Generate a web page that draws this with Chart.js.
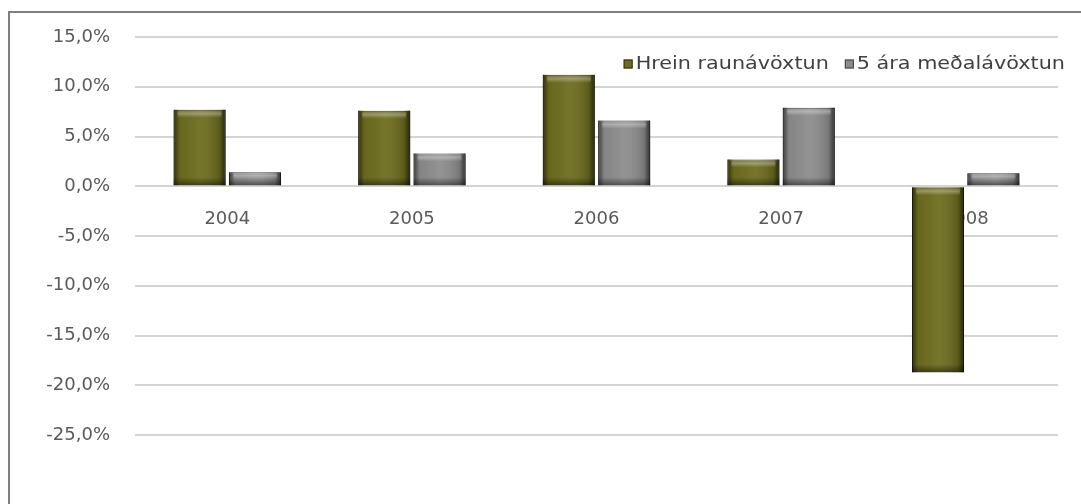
<!DOCTYPE html>
<html>
<head>
<meta charset="utf-8">
<script src="https://cdn.jsdelivr.net/npm/chart.js@4.4.1/dist/chart.umd.min.js"></script>
<style>
    html, body { margin: 0; padding: 0; background: #fff; }
    #wrap { position: relative; width: 1081px; height: 504px; overflow: hidden; }
    #frame {
        position: absolute; left: 8px; top: 11px; width: 1200px; height: 600px;
        border-left: 2px solid #7f7f7f; border-top: 2px solid #7f7f7f;
    }
    canvas { position: absolute; left: 0; top: 0; }
</style>
</head>
<body>
<div id="wrap">
    <div id="frame"></div>
    <canvas id="returnChart" width="1081" height="504"></canvas>
</div>
<script>
const years = ['2004', '2005', '2006', '2007', '2008'];
const seriesNames = ['Hrein raunávöxtun', '5 ára meðalávöxtun'];
const netRealReturn = [7.7, 7.6, 11.2, 2.7, -18.7];
const fiveYearAvg = [1.4, 3.3, 6.6, 7.9, 1.3];
const yMin = -25;
const yMax = 15;
const yStep = 5;

const fontFamily = '"DejaVu Sans", Verdana, sans-serif';

// fake the bevelled look of the excel bars
const bevelPlugin = {
    id: 'bevel',
    afterDatasetsDraw(chart) {
        const c = chart.ctx;
        chart.data.datasets.forEach((ds, i) => {
            const meta = chart.getDatasetMeta(i);
            meta.data.forEach(bar => {
                const left = bar.x - bar.width / 2;
                const top = Math.min(bar.y, bar.base);
                const h = Math.abs(bar.base - bar.y);
                const w = bar.width;
                c.save();
                const g = c.createLinearGradient(left, 0, left + w, 0);
                g.addColorStop(0, 'rgba(0,0,0,0.55)');
                g.addColorStop(0.12, 'rgba(0,0,0,0.05)');
                g.addColorStop(0.5, 'rgba(255,255,255,0.06)');
                g.addColorStop(0.88, 'rgba(0,0,0,0.15)');
                g.addColorStop(1, 'rgba(0,0,0,0.65)');
                c.fillStyle = g;
                c.fillRect(left, top, w, h);
                const hh = Math.min(8, h / 2);
                const g2 = c.createLinearGradient(0, top, 0, top + hh);
                g2.addColorStop(0, 'rgba(255,255,255,0.05)');
                g2.addColorStop(0.5, 'rgba(255,255,255,0.3)');
                g2.addColorStop(1, 'rgba(255,255,255,0)');
                c.fillStyle = g2;
                c.fillRect(left + 4, top + 1, w - 8, hh);
                const g3 = c.createLinearGradient(0, top + h - hh, 0, top + h);
                g3.addColorStop(0, 'rgba(0,0,0,0)');
                g3.addColorStop(1, 'rgba(0,0,0,0.45)');
                c.fillStyle = g3;
                c.fillRect(left, top + h - hh, w, hh);
                c.restore();
            });
        });
    }
};

// legend sits inside the plot, top right, like the excel one
// (the source picture is stretched sideways, so the text is too)
const insideLegend = {
    id: 'insideLegend',
    afterDraw(chart) {
        const c = chart.ctx;
        const stretch = 1.22;
        const box = 9, gap = 3, itemGap = 16;
        const right = 1065, cy = 64;
        c.save();
        c.font = '17px ' + fontFamily;
        c.textBaseline = 'middle';
        const widths = chart.data.datasets.map(ds => c.measureText(ds.label).width * stretch);
        let x = right - widths.reduce((a, b) => a + b, 0) - (box + gap) * widths.length - itemGap * (widths.length - 1);
        chart.data.datasets.forEach((ds, i) => {
            c.fillStyle = ds.backgroundColor;
            c.strokeStyle = ds.borderColor;
            c.lineWidth = 1;
            c.fillRect(x, cy - box / 2, box, box);
            c.strokeRect(x + 0.5, cy - box / 2 + 0.5, box - 1, box - 1);
            x += box + gap;
            c.save();
            c.translate(x, cy + 1);
            c.scale(stretch, 1);
            c.fillStyle = '#404040';
            c.fillText(ds.label, 0, 0);
            c.restore();
            x += widths[i] + itemGap;
        });
        c.restore();
    }
};

const ctx = document.getElementById('returnChart').getContext('2d');
const returnChart = new Chart(ctx, {
    type: 'bar',
    data: {
        labels: years,
        datasets: [{
            label: seriesNames[0],
            data: netRealReturn,
            backgroundColor: '#6c6c1e',
            borderColor: '#34340c',
            borderWidth: 1
        }, {
            label: seriesNames[1],
            data: fiveYearAvg,
            backgroundColor: '#8c8c8c',
            borderColor: '#404040',
            borderWidth: 1
        }]
    },
    options: {
        responsive: false,
        animation: false,
        categoryPercentage: 0.6,
        barPercentage: 0.94,
        layout: { padding: { top: 37, bottom: 69, left: 0, right: 23 } },
        plugins: {
            tooltip: { enabled: false },
            legend: { display: false }
        },
        scales: {
            x: {
                position: { y: 0 },
                grid: { display: false, drawTicks: false },
                border: { display: false },
                ticks: {
                    padding: 22,
                    color: '#5a5a5a',
                    font: { family: fontFamily, size: 18 }
                }
            },
            y: {
                min: yMin,
                max: yMax,
                afterFit(scale) { scale.width = 135; },
                grid: { color: '#d4d4d4', lineWidth: 2, drawTicks: false },
                border: { display: false },
                ticks: {
                    stepSize: yStep,
                    padding: 25,
                    color: '#5a5a5a',
                    font: { family: fontFamily, size: 18 },
                    callback: v => v.toFixed(1).replace('.', ',') + '%'
                }
            }
        }
    },
    plugins: [bevelPlugin, insideLegend]
});
</script>
</body>
</html>
